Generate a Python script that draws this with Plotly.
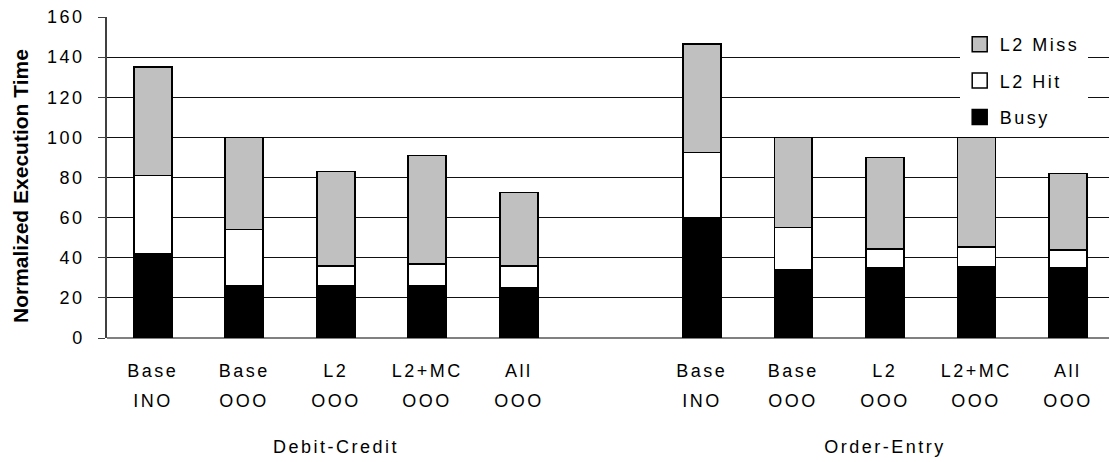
import plotly.graph_objects as go

# Data
groups = ["Debit-Credit", "Order-Entry"]
configs_top = ["Base", "Base", "L2", "L2+MC", "All"]
configs_bot = ["INO", "OOO", "OOO", "OOO", "OOO"]
busy_dc = [42, 26, 26, 26, 25]
hit_dc = [39, 28, 10, 11, 11]
miss_dc = [54, 46, 47, 54, 36.5]
busy_oe = [60, 34, 35, 35.5, 35]
hit_oe = [32.5, 21, 9.5, 10, 9]
miss_oe = [54, 45, 45.5, 54.5, 38]
series_names = ["Busy", "L2 Hit", "L2 Miss"]
series_colors = ["black", "white", "#c0c0c0"]
y_title = "Normalized Execution Time"

x_dc = [0, 1, 2, 3, 4]
x_oe = [6, 7, 8, 9, 10]
xs = x_dc + x_oe
values = [busy_dc + busy_oe, hit_dc + hit_oe, miss_dc + miss_oe]
top_labels = configs_top + configs_top
bot_labels = configs_bot + configs_bot

FONT = "Liberation Sans, Arial, sans-serif"
FS = 18
line = dict(color="black", width=1.6)

fig = go.Figure()
for name, col, vals in zip(series_names, series_colors, values):
    fig.add_trace(go.Bar(x=xs, y=vals, name=name, marker=dict(color=col, line=line),
                         width=0.415, showlegend=False))
# legend-only entries (square symbols), top-to-bottom order: L2 Miss, L2 Hit, Busy
for i, (name, col) in enumerate(zip(series_names[::-1], series_colors[::-1])):
    fig.add_trace(go.Scatter(x=[None], y=[None], mode="markers", name=name,
                             legendgroup=f"g{i}",
                             marker=dict(symbol="square", size=15, color=col,
                                         line=dict(color="black", width=1.5))))

annotations = []
for xv, t in zip(xs, bot_labels):
    annotations.append(dict(x=xv, y=-63 / 321, xref="x", yref="paper", text=t, showarrow=False,
                            font=dict(size=FS, color="black", family=FONT), yanchor="middle"))
for g, xv in zip(groups, [2, 8]):
    annotations.append(dict(x=xv, y=-109 / 321, xref="x", yref="paper", text=g, showarrow=False,
                            font=dict(size=FS, color="black", family=FONT), yanchor="middle"))
annotations.append(dict(x=(21 - 107) / 1002, y=(338 - 186) / 321, xref="paper", yref="paper",
                        text=f"<b>{y_title}</b>", textangle=-90, showarrow=False,
                        xanchor="center", yanchor="middle",
                        font=dict(size=21, color="black", family=FONT), name="ytitle"))

fig.update_layout(
    barmode="stack",
    width=1109, height=462,
    margin=dict(l=107, r=0, t=17, b=124, autoexpand=False),
    plot_bgcolor="white", paper_bgcolor="white",
    font=dict(family=FONT, size=FS, color="black"),
    showlegend=True,
    legend=dict(x=0.851, y=0.972, xanchor="left", yanchor="top", traceorder="grouped",
                bgcolor="white", borderwidth=0, font=dict(size=FS, family=FONT),
                itemwidth=30, tracegroupgap=10),
    annotations=annotations,
    xaxis=dict(range=[-0.5, 10.45], tickmode="array", tickvals=xs, ticktext=top_labels,
               showgrid=False, zeroline=False, showline=False, ticks="",
               tickfont=dict(size=FS, family=FONT), ticklabelstandoff=20, automargin=False),
    yaxis=dict(range=[0, 160], dtick=20, showgrid=True, gridcolor="#111111", gridwidth=1,
               zeroline=True, zerolinecolor="#808080", zerolinewidth=2,
               showline=True, linecolor="#404040", linewidth=1.5,
               ticks="outside", ticklen=7, tickcolor="#404040",
               tickfont=dict(size=FS, family=FONT), ticklabelstandoff=10, automargin=False),
)

post = """
document.body.style.margin = '0';
var st = document.createElement('style');
st.innerHTML = '.xtick text, .ytick text, text.legendtext, .annotation:not([data-index="12"]) text.annotation-text { letter-spacing: 2.5px; } .legend .scrollbox { clip-path: none !important; } .legend .bg { width: 128px; }';
document.head.appendChild(st);
"""
fig.write_html("out.html", post_script=post, config={"displayModeBar": False})
